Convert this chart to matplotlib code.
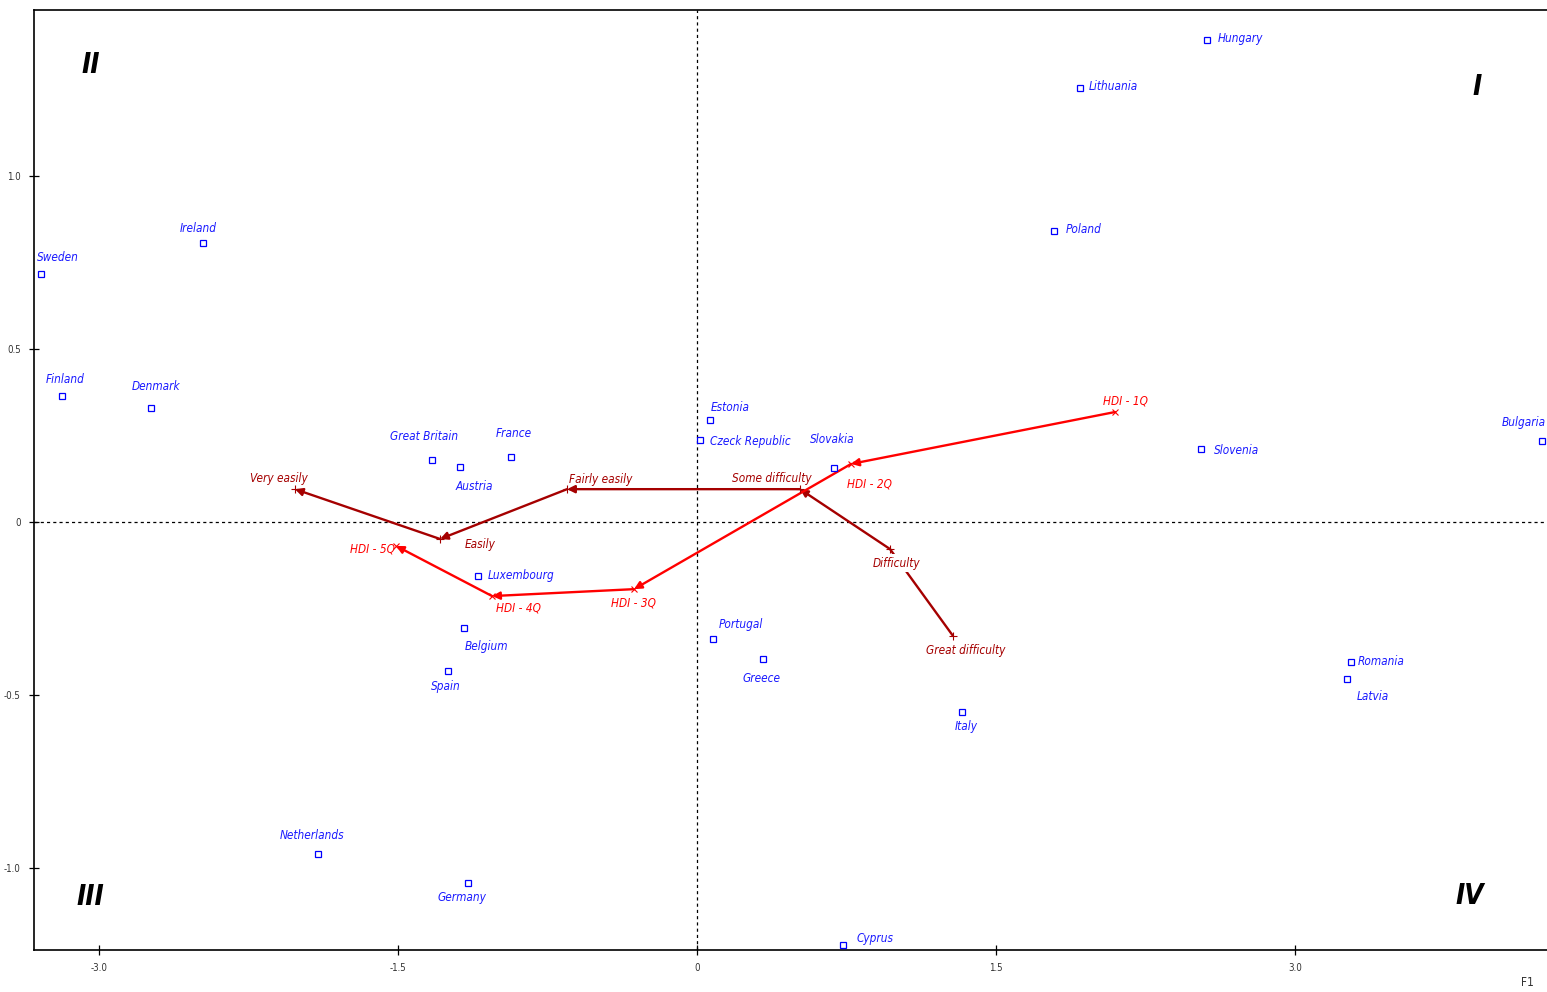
import matplotlib
matplotlib.use("Agg")
import matplotlib.pyplot as plt
from matplotlib import font_manager

# prefer a condensed face if one is installed
fm = font_manager.fontManager.ttflist
narrow = [f.name for f in fm if "Narrow" in f.name or
          ("Condensed" in f.fname and f.name in ("DejaVu Sans", "Liberation Sans"))]
FONT = (narrow[:1] or []) + ["Liberation Sans", "DejaVu Sans"]
plt.rcParams["font.family"] = FONT
plt.rcParams["font.stretch"] = "condensed"

# --- row points (countries) ---
countries = ["Hungary", "Lithuania", "Poland", "Ireland", "Sweden", "Finland",
             "Denmark", "Great Britain", "Austria", "France", "Estonia",
             "Czeck Republic", "Slovakia", "Slovenia", "Bulgaria", "Luxembourg",
             "Belgium", "Spain", "Portugal", "Greece", "Italy", "Romania",
             "Latvia", "Netherlands", "Germany", "Cyprus"]
country_f1 = [2.559, 1.921, 1.791, -2.478, -3.291, -3.186, -2.739, -1.329,
              -1.189, -0.933, 0.065, 0.015, 0.687, 2.528, 4.239, -1.099,
              -1.169, -1.249, 0.080, 0.331, 1.329, 3.281, 3.261, -1.901,
              -1.149, 0.732]
country_f2 = [1.393, 1.254, 0.841, 0.806, 0.717, 0.364, 0.329, 0.179, 0.159,
              0.188, 0.295, 0.237, 0.156, 0.211, 0.234, -0.156, -0.306,
              -0.431, -0.338, -0.396, -0.549, -0.405, -0.454, -0.960,
              -1.043, -1.223]

# --- column points: ease of making ends meet ---
ease = ["Very easily", "Easily", "Fairly easily", "Some difficulty",
        "Difficulty", "Great difficulty"]
ease_f1 = [-2.017, -1.289, -0.652, 0.517, 0.968, 1.284]
ease_f2 = [0.095, -0.049, 0.095, 0.095, -0.078, -0.329]

# --- supplementary points: HDI quintiles ---
hdi = ["HDI - 1Q", "HDI - 2Q", "HDI - 3Q", "HDI - 4Q", "HDI - 5Q"]
hdi_f1 = [2.097, 0.773, -0.316, -1.028, -1.510]
hdi_f2 = [0.318, 0.168, -0.194, -0.214, -0.069]

x_ticks = [-3.0, -1.5, 0, 1.5, 3.0]
x_tick_labels = ["-3.0", "-1.5", "0", "1.5", "3.0"]
y_ticks = [-1.0, -0.5, 0, 0.5, 1.0]
y_tick_labels = ["-1.0", "-0.5", "0", "0.5", "1.0"]

# label offsets in pixels (dx, dy)
country_off = [(33, 2), (33, 2), (30, 2), (-5, 15), (17, 16), (3, 17),
               (5, 22), (-8, 24), (14, -19), (3, 23), (20, 12), (50, -1),
               (-2, 29), (36, -1), (-18, 19), (43, 1), (22, -19), (-2, -15),
               (28, 14), (-1, -19), (4, -15), (30, 1), (26, -17), (-6, 19),
               (-6, -15), (32, 7)]
ease_off = [(-16, 11), (40, -6), (34, 10), (-28, 11), (7, -14), (13, -15)]
hdi_off = [(10, 11), (18, -20), (-1, -14), (26, -12), (-24, -3)]

BLUE = "#1a1aff"
DARKRED = "#a50000"
RED = "#ff0000"
LABEL_SIZE = 8.5

W, H = 1547, 992
fig = plt.figure(figsize=(W / 100, H / 100), dpi=100)
ax = fig.add_axes([34 / W, 42 / H, (W - 34) / W, (950 - 10) / H])
ax.set_xlim(-3.326, 4.264)
ax.set_ylim(-1.237, 1.480)

ax.axhline(0, color="black", lw=0.9, ls=(0, (2.5, 2.5)), zorder=1)
ax.axvline(0, color="black", lw=0.9, ls=(0, (2.5, 2.5)), zorder=1)

# countries
ax.plot(country_f1, country_f2, ls="none", marker="s", ms=4.2, mfc="white",
        mec="#0000ff", mew=0.9, zorder=3)
for name, x, y, (dx, dy) in zip(countries, country_f1, country_f2, country_off):
    ax.annotate(name, (x, y), xytext=(dx, dy), textcoords="offset pixels",
                ha="center", va="center", color=BLUE, fontsize=LABEL_SIZE,
                style="italic", zorder=4)


def chain(xs, ys, color, heads):
    for i in range(len(xs) - 1):
        style = "-|>" if heads[i] else "-"
        # arrow drawn from the later point back to the earlier one
        ax.annotate("", xy=(xs[i], ys[i]), xytext=(xs[i + 1], ys[i + 1]),
                    arrowprops=dict(arrowstyle=style, color=color, lw=1.7,
                                    mutation_scale=11, shrinkA=0, shrinkB=0),
                    zorder=2)


chain(ease_f1, ease_f2, DARKRED, [True, True, True, True, False])
chain(hdi_f1[::-1], hdi_f2[::-1], RED, [True, True, True, True])

ax.plot(ease_f1, ease_f2, ls="none", marker="+", ms=6, mec=DARKRED, mew=0.8,
        zorder=3)
ax.plot(hdi_f1, hdi_f2, ls="none", marker="x", ms=4.5, mec=RED, mew=0.8,
        zorder=3)

for name, x, y, (dx, dy) in zip(ease, ease_f1, ease_f2, ease_off):
    box = dict(fc="white", ec="none", pad=1.5) if name == "Difficulty" else None
    ax.annotate(name, (x, y), xytext=(dx, dy), textcoords="offset pixels",
                ha="center", va="center", color=DARKRED, fontsize=LABEL_SIZE,
                style="italic", bbox=box, zorder=5)
for name, x, y, (dx, dy) in zip(hdi, hdi_f1, hdi_f2, hdi_off):
    ax.annotate(name, (x, y), xytext=(dx, dy), textcoords="offset pixels",
                ha="center", va="center", color=RED, fontsize=LABEL_SIZE,
                style="italic", zorder=5)

# quadrant numerals
for txt, px, py in [("II", 91, 65), ("I", 1477, 87), ("III", 90, 897),
                    ("IV", 1470, 896)]:
    fig.text(px / W, 1 - py / H, txt, ha="center", va="center", fontsize=20,
             style="italic", weight="bold", color="black")

ax.set_xticks(x_ticks)
ax.set_xticklabels(x_tick_labels)
ax.set_yticks(y_ticks)
ax.set_yticklabels(y_tick_labels)
ax.tick_params(direction="inout", length=7, width=0.9, labelsize=7,
               labelcolor="#333333", pad=6)
for side in ["top", "left", "bottom"]:
    ax.spines[side].set_linewidth(1.2)
ax.spines["right"].set_visible(False)

fig.text(1527 / W, 1 - 982 / H, "F1", ha="center", va="center", fontsize=8.5,
         color="#333333")

fig.savefig("out.png", dpi=100)
